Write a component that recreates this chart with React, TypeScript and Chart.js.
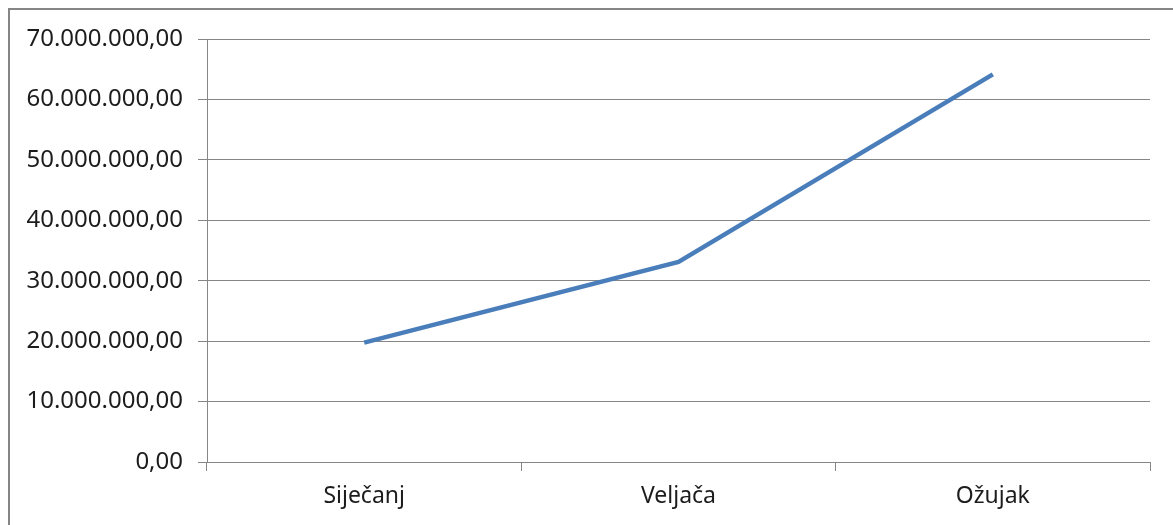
import React, { useEffect, useRef } from "react";
import { Chart, registerables } from "chart.js";

Chart.register(...registerables);

const categories: string[] = ["Siječanj", "Veljača", "Ožujak"];
const values: number[] = [19750000, 33100000, 64150000];
const yMin = 0;
const yMax = 70000000;
const yStep = 10000000;

function formatHr(v: number): string {
  const fixed = Math.abs(v).toFixed(2);
  const [intPart, dec] = fixed.split(".");
  const withDots = intPart.replace(/\B(?=(\d{3})+(?!\d))/g, ".");
  return (v < 0 ? "-" : "") + withDots + "," + dec;
}

export default function App() {
  const ref = useRef<HTMLCanvasElement | null>(null);

  useEffect(() => {
    if (!ref.current) return;
    const family = "'Noto Sans', 'Open Sans', sans-serif";
    const chart = new Chart(ref.current, {
      type: "line",
      data: {
        labels: categories,
        datasets: [
          {
            data: values,
            borderColor: "#4A7EBB",
            backgroundColor: "#4A7EBB",
            borderWidth: 4.5,
            pointRadius: 0,
            pointHoverRadius: 0,
            tension: 0,
            fill: false,
          },
        ],
      },
      options: {
        animation: false,
        responsive: false,
        events: [],
        layout: { padding: { top: 39, right: 23, left: 0, bottom: 0 } },
        plugins: {
          legend: { display: false },
          tooltip: { enabled: false },
          title: { display: false },
        },
        scales: {
          x: {
            type: "category",
            offset: true,
            grid: {
              display: true,
              drawOnChartArea: false,
              drawTicks: true,
              tickLength: 9,
              offset: true,
              color: "#868686",
              lineWidth: 1,
            },
            border: { display: true, color: "#868686", width: 1 },
            ticks: {
              color: "#1c1c1c",
              font: { family, size: 23 },
              padding: 12,
              maxRotation: 0,
              autoSkip: false,
            },
            afterFit: (scale: any) => {
              scale.height = 63;
            },
          },
          y: {
            min: yMin,
            max: yMax,
            grid: {
              color: "#868686",
              lineWidth: 1,
              drawTicks: true,
              tickLength: 9,
            },
            border: { display: true, color: "#868686", width: 1 },
            ticks: {
              stepSize: yStep,
              color: "#1c1c1c",
              font: { family, size: 24 },
              padding: 15,
              callback: (v: any) => formatHr(Number(v)),
            },
            afterFit: (scale: any) => {
              scale.width = 207;
            },
          },
        },
      },
    });
    return () => chart.destroy();
  }, []);

  return (
    <div style={{ position: "absolute", left: 0, top: 0, width: 1173, height: 525, overflow: "hidden", background: "#fff" }}>
      <div
        style={{
          position: "absolute",
          left: 8,
          top: 8,
          width: 1200,
          height: 600,
          borderTop: "2px solid #858585",
          borderLeft: "2px solid #858585",
          boxSizing: "border-box",
        }}
      />
      <canvas
        ref={ref}
        width={1173}
        height={525}
        style={{ position: "absolute", left: 0, top: 0, width: 1173, height: 525 }}
      />
    </div>
  );
}
